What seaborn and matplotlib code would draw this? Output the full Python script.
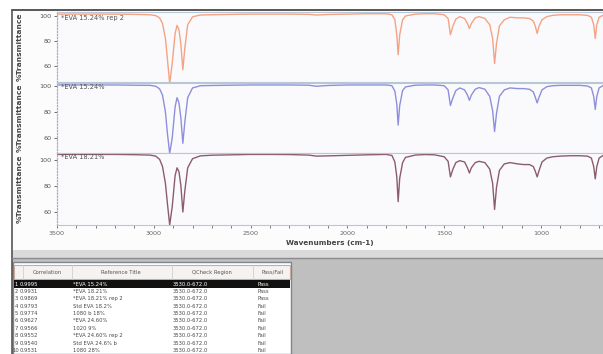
# FTIR QCheck screen: three stacked spectra + correlation table
import seaborn as sns
import matplotlib.pyplot as plt
from matplotlib.patches import Rectangle
from matplotlib.ticker import MultipleLocator

# wavenumbers (cm-1), shared by the three spectra
wavenumbers = [3500, 3400, 3300, 3200, 3100, 3020, 2990, 2970, 2955, 2940, 2930, 2918,
               2905, 2890, 2880, 2870, 2860, 2850, 2840, 2825, 2800, 2760, 2700, 2600,
               2500, 2400, 2300, 2200, 2160, 2100, 2000, 1900, 1800, 1770, 1755, 1745,
               1738, 1730, 1715, 1700, 1650, 1600, 1550, 1500, 1480, 1468, 1455, 1440,
               1420, 1395, 1380, 1370, 1360, 1340, 1320, 1290, 1265, 1250, 1240, 1230,
               1215, 1190, 1160, 1120, 1090, 1060, 1040, 1030, 1020, 1010, 995, 970,
               940, 900, 850, 800, 760, 740, 728, 720, 712, 700, 680]

eva_15_rep2 = [101.5, 101.5, 101.5, 101.5, 101.3, 101.0, 100.3, 98.5, 94, 82, 66, 46,
               62, 86, 92.5, 89, 77, 57, 74, 93, 99.3, 100.8, 101, 101.3,
               101.5, 101.5, 101.5, 101.3, 100.8, 101.2, 101.5, 101.8, 101.8, 101, 97, 85,
               69, 85, 97, 100, 101.5, 101.8, 101.8, 101, 98, 85, 92, 97.5,
               99.5, 98, 94, 90, 94, 98.5, 99.5, 98, 93, 82, 62, 78,
               92, 97, 99, 98.5, 98.5, 98, 96, 92, 86, 92, 97, 99.5,
               100.5, 101, 101, 101, 100.5, 99, 93, 82, 93, 99, 100.5]

eva_15 = [100.8, 100.8, 100.8, 100.8, 100.6, 100.5, 99.8, 97.8, 93, 80, 64, 48,
          60, 84, 91, 87, 75, 56, 72, 91, 98.5, 100.2, 100.4, 100.6,
          100.8, 100.8, 100.8, 100.6, 99.8, 100.4, 100.8, 100.8, 100.8, 100.2, 96, 86,
          70, 85, 96.5, 99.3, 100.6, 100.8, 100.8, 100.2, 97, 85, 91, 96.5,
          98.5, 97, 93, 89, 93, 97.5, 98.8, 97.5, 92, 81, 65, 79,
          92, 97, 98.5, 98, 98, 97.5, 95.5, 91.5, 87, 91.5, 97, 99.5,
          100.2, 100.5, 100.5, 100.5, 100, 98.5, 92, 82, 92, 98.5, 100.3]

eva_18 = [104.3, 104.3, 104.3, 104.3, 104.1, 103.8, 103, 100.5, 95, 82, 67, 50,
          64, 88, 94, 91, 80, 60, 76, 94, 101, 103.2, 103.7, 104,
          104.3, 104.3, 104.2, 103.8, 103, 103.2, 103.6, 104, 104.3, 103.5, 98.5, 87,
          68, 86, 98, 102, 103.8, 104.2, 104, 102.5, 99, 87, 93, 98,
          99.5, 98.5, 94, 90, 94, 98, 99, 98, 93, 82, 62, 79,
          92, 97, 98, 97, 96.5, 96.5, 95, 91.5, 87, 92, 98.5, 101.5,
          102.5, 103, 103.3, 103.3, 103, 101.5, 95, 85.5, 95, 101.5, 103.5]

panel_titles = ["*EVA 15.24% rep 2", "*EVA 15.24%", "*EVA 18.21%"]
panel_colors = ["#F4A384", "#8E8FDC", "#8C5C6C"]
panel_ylims = [(47.2, 103.2), (48.5, 102.3), (50, 105.4)]

# correlation table
row_no = [1, 2, 3, 4, 5, 6, 7, 8, 9, 10]
correlation = ["0.9995", "0.9931", "0.9869", "0.9793", "0.9774", "0.9627", "0.9566",
               "0.9552", "0.9540", "0.9531"]
ref_title = ["*EVA 15.24%", "*EVA 18.21%", "*EVA 18.21% rep 2", "Std EVA 18.2%",
             "1080 b 18%", "*EVA 24.60%", "1020 9%", "*EVA 24.60% rep 2",
             "Std EVA 24.6% b", "1080 28%"]
qcheck_region = ["3530.0-672.0"] * 10
pass_fail = ["Pass", "Pass", "Pass", "Fail", "Fail", "Fail", "Fail", "Fail", "Fail", "Fail"]
headers = ["Correlation", "Reference Title", "QCheck Region", "Pass/Fail"]

sns.set_theme(style="white")
plt.rcParams['font.family'] = ['DejaVu Sans']

W, H = 603, 354
fig = plt.figure(figsize=(W / 100, H / 100), dpi=100)
fig.patch.set_facecolor("white")

# background / window chrome, in pixel coords
bg = fig.add_axes([0, 0, 1, 1], zorder=-5)
bg.set_xlim(0, W)
bg.set_ylim(H, 0)
bg.axis("off")
bg.add_patch(Rectangle((12, 10), W - 12, 240, facecolor="#FCFCFD", edgecolor="none"))
bg.add_patch(Rectangle((12, 250), W - 12, 9, facecolor="#DADADA", edgecolor="none"))
bg.add_patch(Rectangle((12, 259), W - 12, H - 259, facecolor="#BFBFBF", edgecolor="none"))
bg.plot([12, W], [10, 10], color="#4A4A4A", lw=1.3)
bg.plot([12, 12], [10, H], color="#555555", lw=1.2)
bg.plot([12, W], [257.5, 257.5], color="#8A8A8A", lw=1.0)

# table
tx0, tx1, ty0 = 13, 291, 262
bg.add_patch(Rectangle((tx0, ty0), tx1 - tx0, H - ty0, facecolor="white",
                       edgecolor="#7C8690", lw=1.0))
bg.add_patch(Rectangle((tx0 + 1, 265), tx1 - tx0 - 2, 14, facecolor="#F5F3F2",
                       edgecolor="#C9A9A0", lw=0.8))
for sx in [23, 72, 172, 253]:
    bg.plot([sx, sx], [265, 279], color="#D0D0D0", lw=0.6)
for h, cx in zip(headers, [47, 121, 212, 273]):
    bg.text(cx, 272.5, h, fontsize=3.8, color="#555555", ha="center", va="center")

row_y0, row_dy = 284, 7.4
bg.add_patch(Rectangle((tx0 + 1, row_y0 - 4.2), tx1 - tx0 - 2, 8.2,
                       facecolor="#111111", edgecolor="none"))
for i in range(len(row_no)):
    y = row_y0 + i * row_dy
    c = "white" if i == 0 else "#4A4A4A"
    bg.text(16, y, str(row_no[i]), fontsize=3.8, color=c, ha="center", va="center")
    bg.text(20, y, correlation[i], fontsize=3.8, color=c, ha="left", va="center")
    bg.text(73, y, ref_title[i], fontsize=3.8, color=c, ha="left", va="center")
    bg.text(173, y, qcheck_region[i], fontsize=3.8, color=c, ha="left", va="center")
    bg.text(257, y, pass_fail[i], fontsize=3.8, color=c, ha="left", va="center")

# spectra panels (pixel top/bottom of each axes)
panel_px = [(12, 82), (83, 153), (153, 225)]
x_left = 57
series = [eva_15_rep2, eva_15, eva_18]

for k, (vals, (top, bot)) in enumerate(zip(series, panel_px)):
    ax = fig.add_axes([x_left / W, 1 - bot / H, 1 - x_left / W, (bot - top) / H])
    ax.set_facecolor("#FAFAFD")
    sns.lineplot(x=wavenumbers, y=vals, ax=ax, color=panel_colors[k], lw=1.0,
                 estimator=None)
    ax.set_xlim(3500, 680)
    ax.set_ylim(*panel_ylims[k])
    ax.set_yticks([60, 80, 100])
    ax.tick_params(axis="y", labelsize=4.6, colors="#555555", length=2.5, width=0.6,
                   pad=1.5, left=True)
    for s in ["top", "bottom", "right"]:
        ax.spines[s].set_color("#B7C7D6")
        ax.spines[s].set_linewidth(0.8)
    ax.spines["left"].set_color("#9DB3C8")
    ax.spines["left"].set_linestyle((0, (1, 1.5)))
    ax.spines["left"].set_linewidth(0.9)
    ax.set_ylabel("")
    ax.text(0.008, 0.985 if k else 0.95, panel_titles[k], transform=ax.transAxes,
            fontsize=4.8, color="#555555", ha="left", va="top")
    fig.text(20 / W, 1 - (top + bot) / 2 / H, "%Transmittance", rotation=90,
             fontsize=5.4, fontweight="bold", color="#444444", ha="center", va="center")
    if k < 2:
        ax.set_xticks([])
    else:
        ax.xaxis.set_major_locator(MultipleLocator(500))
        ax.xaxis.set_minor_locator(MultipleLocator(100))
        ax.tick_params(axis="x", which="both", bottom=True, labelsize=4.6,
                       colors="#666666", length=2, width=0.6, pad=2.5)
        ax.set_xlabel("Wavenumbers (cm-1)", fontsize=5.2, fontweight="bold",
                      color="#444444", labelpad=3)

fig.savefig("out.png", dpi=100)
